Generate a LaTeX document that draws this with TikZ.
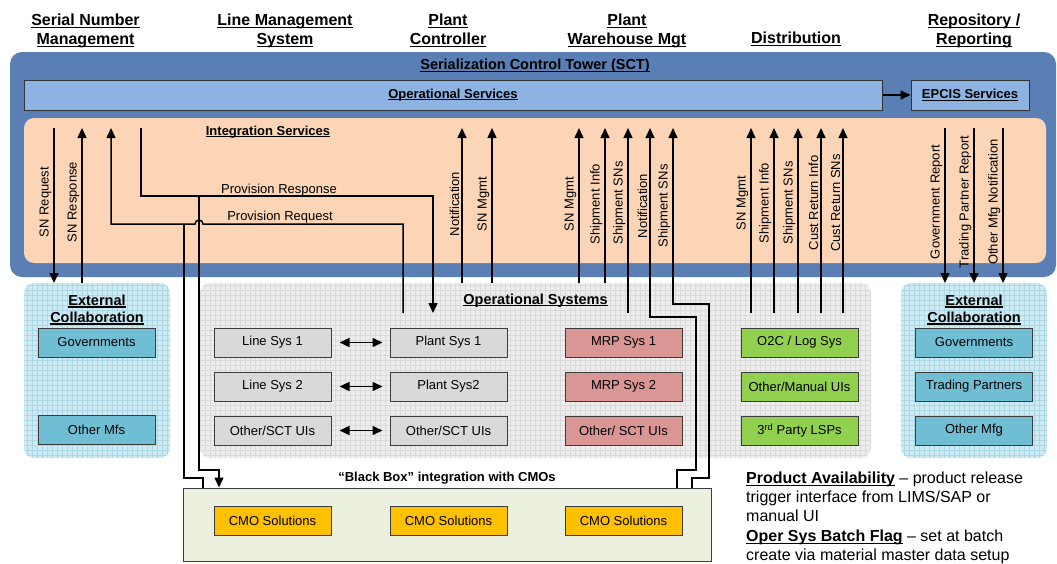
\documentclass[tikz,border=0pt]{standalone}
\usepackage{fontspec}
\setmainfont{Liberation Sans}
\usepackage{tikz}
\usetikzlibrary{
  arrows.meta,
  positioning,
  calc
}
\definecolor{sctblue}{RGB}{89,127,180}
\definecolor{opsblue}{RGB}{141,179,226}
\definecolor{intpeach}{RGB}{251,213,181}
\definecolor{extcyan}{RGB}{206,234,242}
\definecolor{extgrid}{RGB}{170,215,229}
\definecolor{opsgray}{RGB}{237,237,237}
\definecolor{opsgrid}{RGB}{218,218,218}
\definecolor{sysgray}{RGB}{217,217,217}
\definecolor{mrpred}{RGB}{218,150,148}
\definecolor{distgreen}{RGB}{146,208,80}
\definecolor{extteal}{RGB}{112,190,212}
\definecolor{cmoyellow}{RGB}{255,192,0}
\definecolor{cmogreen}{RGB}{235,241,222}
\definecolor{boxedge}{RGB}{60,60,60}
\newcommand{\uln}[1]{\setbox0=\hbox{#1}\rlap{\rule[-0.16em]{\wd0}{0.075em}}\box0\relax}
\tikzset{
  panel/.style={rounded corners=10pt, inner sep=0pt, outer sep=0pt},
  gridpanel/.style={
    panel,
    path picture={\draw[line width=0.4pt,#1] (path picture bounding box.south west) grid[step=5pt] (path picture bounding box.north east);}
  },
  sysbox/.style={
    draw=boxedge,
    line width=1pt,
    minimum width=117pt,
    minimum height=29pt,
    inner sep=0pt,
    font=\fontsize{13}{15}\selectfont
  },
  linebox/.style={sysbox,fill=sysgray},
  mrpbox/.style={sysbox,fill=mrpred},
  distbox/.style={sysbox,fill=distgreen},
  extbox/.style={sysbox,fill=extteal},
  cmobox/.style={sysbox,fill=cmoyellow},
  svcbar/.style={draw=black!80,line width=1pt,minimum height=30pt,inner sep=0pt,font=\fontsize{13}{15}\selectfont\bfseries},
  flowline/.style={line width=1.5pt,draw=black},
  flowarrow/.style={flowline,-{Triangle[length=10pt,width=9pt]}},
  duplex/.style={flowline,{Triangle[length=10pt,width=9pt]}-{Triangle[length=10pt,width=9pt]},shorten <=8pt,shorten >=7pt},
  msglabel/.style={rotate=90,anchor=south,inner sep=1pt,font=\fontsize{13}{15}\selectfont},
  hdr/.style={align=center,anchor=north,inner sep=0pt,font=\fontsize{16}{19}\selectfont\bfseries},
  paneltitle/.style={align=center,inner sep=0pt,font=\fontsize{14.5}{17}\selectfont\bfseries},
  flowtext/.style={inner sep=0pt,anchor=base,font=\fontsize{13}{15}\selectfont},
}
\begin{document}
\begin{tikzpicture}[x=1pt,y=-1pt]
  \useasboundingbox (0,0) rectangle (1057,563);

  % Column headers
  \node[hdr] (hsn) at (85.5,13.5) {\uln{Serial Number}\\\uln{Management}};
  \node[hdr] (hline) at (285,13.5) {\uln{Line Management}\\\uln{System}};
  \node[hdr] (hplant) at (448,13.5) {\uln{Plant}\\\uln{Controller}};
  \node[hdr] (hwh) at (627,13.5) {\uln{Plant}\\\uln{Warehouse Mgt}};
  \node[hdr] (hdist) at (796,32) {\uln{Distribution}};
  \node[hdr] (hrep) at (974,13.5) {\uln{Repository /}\\\uln{Reporting}};

  % Control tower
  \node[panel,fill=sctblue,rounded corners=12pt,minimum width=1046pt,minimum height=225pt] (sct) at (533,164.5) {};
  \node[inner sep=0pt,font=\fontsize{14.5}{17}\selectfont\bfseries] (scttitle) at (535,66) {\uln{Serialization Control Tower (SCT)}};
  \node[svcbar,fill=opsblue,minimum width=858pt] (opsvc) at (453,95) {\uln{Operational Services}};
  \node[svcbar,fill=opsblue,minimum width=118pt] (epcis) at (970,95) {\uln{EPCIS Services}};
  \draw[flowarrow] (opsvc) -- (epcis);
  \node[panel,fill=intpeach,minimum width=1022pt,minimum height=145pt] (intg) at (535,190.5) {};
  \node[inner sep=0pt,anchor=base,font=\fontsize{13}{15}\selectfont\bfseries] (intgtitle) at (268,135) {\uln{Integration Services}};

  % Lower panels
  \node[gridpanel=extgrid,fill=extcyan,minimum width=146pt,minimum height=175pt] (extL) at (97,370.5) {};
  \node[gridpanel=opsgrid,fill=opsgray,minimum width=671pt,minimum height=175pt] (opsys) at (535.5,370.5) {};
  \node[gridpanel=extgrid,fill=extcyan,minimum width=146pt,minimum height=175pt] (extR) at (974,370.5) {};
  \node[paneltitle,anchor=north] (extLtitle) at (97,294.5) {\uln{External}\\\uln{Collaboration}};
  \node[paneltitle,anchor=north] (extRtitle) at (974,294.5) {\uln{External}\\\uln{Collaboration}};
  \node[paneltitle,anchor=base] (opsystitle) at (535.5,304) {\uln{Operational Systems}};

  % External collaboration boxes
  \node[extbox] (govL) at (96.5,342.5) {Governments};
  \node[extbox] (othmfs) at (96.5,429.5) {Other Mfs};
  \node[extbox] (govR) at (974,342.5) {Governments};
  \node[extbox,below=14pt of govR] (trading) {Trading Partners};
  \node[extbox,below=14pt of trading] (othmfg) {Other Mfg};

  % Operational systems boxes
  \node[linebox] (line1) at (272.5,342.5) {Line Sys 1};
  \node[linebox,below=14pt of line1] (line2) {Line Sys 2};
  \node[linebox,below=14pt of line2] (line3) {Other/SCT UIs};
  \node[linebox,right=58pt of line1] (plant1) {Plant Sys 1};
  \node[linebox,right=58pt of line2] (plant2) {Plant Sys2};
  \node[linebox,right=58pt of line3] (plant3) {Other/SCT UIs};
  \node[mrpbox,right=57pt of plant1] (mrp1) {MRP Sys 1};
  \node[mrpbox,right=57pt of plant2] (mrp2) {MRP Sys 2};
  \node[mrpbox,right=57pt of plant3] (mrp3) {Other/ SCT UIs};
  \node[distbox,right=58pt of mrp1] (o2c1) {O2C / Log Sys};
  \node[distbox,right=58pt of mrp2] (o2c2) {Other/Manual UIs};
  \node[distbox,right=58pt of mrp3] (o2c3) {3\textsuperscript{rd} Party LSPs};
  \foreach \i in {1,2,3}
    \draw[duplex] (line\i) -- (plant\i);

  % CMO black box
  \node[draw=boxedge,line width=1pt,fill=cmogreen,minimum width=528pt,minimum height=73pt,inner sep=0pt] (cmo) at (447,524.5) {};
  \node[inner sep=0pt,anchor=base,font=\fontsize{13}{15}\selectfont\bfseries] (cmotitle) at (447,481) {“Black Box” integration with CMOs};
  \node[cmobox] (cmo1) at (272.5,521) {CMO Solutions};
  \node[cmobox,right=58pt of cmo1] (cmo2) {CMO Solutions};
  \node[cmobox,right=57pt of cmo2] (cmo3) {CMO Solutions};

  % Message flows
  \coordinate (itop) at (0,128);
  \coordinate (stubrow) at (0,313);
  \draw[flowarrow] (54,0 |- itop) -- (54,0 |- extL.north) node[msglabel] at (53,202) {SN Request};
  \draw[flowarrow] (82,0 |- extL.north) -- (82,0 |- itop) node[msglabel] at (81,202) {SN Response};
  \foreach \x/\txt in {462/Notification,492/SN Mgmt,579/SN Mgmt,605/Shipment Info}
    \draw[flowarrow] (\x,0 |- opsys.north) -- (\x,0 |- itop) node[msglabel] at (\x-1,204) {\txt};
  \foreach \x/\txt in {628/Shipment SNs,751/SN Mgmt,774/Shipment Info,798/Shipment SNs,821/Cust Return Info,843/Cust Return SNs}
    \draw[flowarrow] (\x,0 |- stubrow) -- (\x,0 |- itop) node[msglabel] at (\x-1,203) {\txt};
  \foreach \x/\txt in {945/Government Report,974/Trading Partner Report,1003/Other Mfg Notification}
    \draw[flowarrow] (\x,0 |- itop) -- (\x,0 |- extR.north) node[msglabel] at (\x-1,202) {\txt};

  % Provisioning
  \draw[flowarrow] (141,0 |- itop) -- (141,196) -- (199,196) coordinate (rspjoin) -- (433,196) -- (433,0 |- stubrow);
  \node[flowtext] (provresp) at (279,193) {Provision Response};
  \draw[flowarrow] (403,0 |- stubrow) -- (403,224) -- (203,224) arc[start angle=0,end angle=180,radius=4pt]
    -- (184,224) coordinate (reqjoin) -- (111,224) -- (111,0 |- itop);
  \node[flowtext] (provreq) at (280,220.5) {Provision Request};
  \draw[flowarrow] (rspjoin) -- (199,470) -- (219,470) -- (219,0 |- cmo.north);
  \draw[flowline] (reqjoin) -- (184,478) -- (203,478) -- (203,0 |- cmo.north);

  % CMO notifications
  \draw[flowarrow] (677,0 |- cmo.north) -- (677,470) -- (696,470) -- (696,317) -- (650,317) -- (650,0 |- itop)
    node[msglabel] at (649,206) {Notification};
  \draw[flowarrow] (692,0 |- cmo.north) -- (692,478) -- (709,478) -- (709,304) -- (673,304) -- (673,0 |- itop)
    node[msglabel] at (672,206) {Shipment SNs};

  % Notes
  \node[anchor=north west,align=left,inner sep=0pt,font=\fontsize{16}{19.3}\selectfont] (notes) at (746,471.5)
    {\uln{\textbf{Product Availability}} – product release\\trigger interface from LIMS/SAP or\\manual UI\\\uln{\textbf{Oper Sys Batch Flag}} – set at batch\\create via material master data setup};
\end{tikzpicture}
\end{document}
